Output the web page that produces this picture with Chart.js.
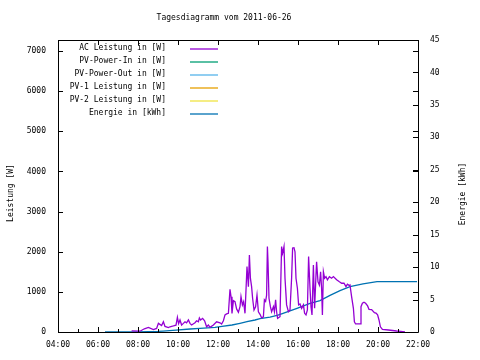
<!DOCTYPE html>
<html>
<head>
<meta charset="utf-8">
<script src="https://cdn.jsdelivr.net/npm/chart.js@4/dist/chart.umd.min.js"></script>
<style>
html,body{margin:0;padding:0;background:#fff;}
canvas{display:block;}
</style>
</head>
<body>
<canvas id="c" width="480" height="360"></canvas>
<script>
// ---- data ----
const titleText = 'Tagesdiagramm vom 2011-06-26';
const leftAxisTitle = 'Leistung [W]';
const rightAxisTitle = 'Energie [kWh]';
const seriesLabels = ['AC Leistung in [W]','PV-Power-In in [W]','PV-Power-Out in [W]','PV-1 Leistung in [W]','PV-2 Leistung in [W]','Energie in [kWh]'];
const seriesColors = ['#9400d3','#009e73','#56b4e9','#e69f00','#f0e442','#0072b2'];
const hourTicks = [4,6,8,10,12,14,16,18,20,22];
const powerTicks = [0,1000,2000,3000,4000,5000,6000,7000];
const energyTicks = [0,5,10,15,20,25,30,35,40,45];

const acHours = [7.68,8.1,8.32,8.52,8.77,8.93,9.02,9.18,9.27,9.35,
 9.52,9.6,9.77,9.9,9.97,10.03,10.1,10.18,10.27,10.35,
 10.43,10.52,10.6,10.68,10.85,10.93,11.02,11.07,11.13,11.23,
 11.33,11.43,11.52,11.6,11.77,11.93,12.1,12.18,12.27,12.35,
 12.43,12.52,12.6,12.65,12.7,12.77,12.85,12.93,13.02,13.1,
 13.15,13.22,13.28,13.35,13.45,13.52,13.57,13.62,13.68,13.73,
 13.8,13.88,13.95,14.02,14.1,14.18,14.27,14.32,14.38,14.43,
 14.47,14.5,14.55,14.62,14.68,14.77,14.82,14.88,14.93,14.98,
 15.1,15.18,15.23,15.3,15.35,15.43,15.52,15.6,15.68,15.73,
 15.8,15.85,15.9,15.97,16.03,16.1,16.18,16.27,16.33,16.4,
 16.47,16.53,16.6,16.65,16.7,16.77,16.83,16.9,16.93,17.0,
 17.07,17.13,17.18,17.22,17.27,17.33,17.4,17.47,17.57,17.68,
 17.77,17.93,18.07,18.18,18.3,18.4,18.47,18.57,18.6,18.68,
 18.77,18.82,18.88,19.1,19.15,19.22,19.3,19.38,19.48,19.55,
 19.68,19.82,19.9,19.98,20.05,20.12,20.22,20.52,20.93,21.35];
const acWatt = [30,20,80,115,60,90,215,160,255,140,
 110,130,150,170,365,210,300,175,215,255,
 230,300,215,175,230,280,255,350,300,340,
 280,130,175,115,175,255,230,200,280,425,
 450,465,1065,880,465,780,755,575,490,630,
 880,675,755,465,1630,1130,1920,1340,1130,840,
 550,630,920,505,440,355,380,800,760,920,
 2130,1750,840,630,505,630,505,800,505,340,
 380,2130,1960,2130,1340,675,505,550,1340,2090,
 2100,2000,1340,1090,675,700,590,675,465,425,
 550,1880,1090,630,425,1670,590,1420,1750,1250,
 1170,1500,1090,425,1500,1340,1380,1300,1380,1340,
 1380,1300,1250,1215,1215,1130,1190,1155,1170,880,
 590,255,200,200,630,715,740,715,650,565,
 560,480,470,425,300,130,65,50,25,5];

const energyHours = [6.35,8.0,9.0,9.25,9.9,10.6,11.1,11.85,12.2,12.7,13.1,13.45,13.85,14.1,14.6,15.0,15.25,15.6,15.95,16.6,17.1,17.6,18.1,18.6,19.25,19.95,21.95];
const energyKWh = [0,0.02,0.1,0.15,0.3,0.46,0.57,0.72,0.88,1.08,1.34,1.59,1.85,2.05,2.3,2.6,2.88,3.24,3.65,4.42,4.83,5.65,6.37,7.0,7.4,7.75,7.75];

// ---- build ----
const FONT = {family:'"DejaVu Sans Mono", monospace', size:8, weight:'normal'};
const CSSFONT = '8px "DejaVu Sans Mono", monospace';
const acData = acHours.map((h,i)=>({x:h,y:acWatt[i]}));
const enData = energyHours.map((h,i)=>({x:h,y:energyKWh[i]}));

function mk(i, data, axis){
  return {label:seriesLabels[i], data:data, borderColor:seriesColors[i], backgroundColor:seriesColors[i],
    borderWidth:1.3, pointRadius:0, tension:0, fill:false, yAxisID:axis};
}

const crisp = v => Math.round(v)+0.5;

const framePlugin = {
  id:'frame',
  afterDatasetsDraw(chart){
    const {ctx, chartArea:a, scales:{x,y,y2}} = chart;
    ctx.save();
    ctx.strokeStyle='#000'; ctx.lineWidth=1;
    const L=Math.round(a.left), R=Math.round(a.right), T=Math.round(a.top), B=Math.round(a.bottom);
    ctx.beginPath();
    ctx.rect(L+0.5,T+0.5,R-L,B-T);
    for(let h=4; h<=22; h++){
      const px = crisp(x.getPixelForValue(h));
      const major = h%2===0;
      const len = major?5:3;
      ctx.moveTo(px,B); ctx.lineTo(px,B-len);
      if(major){ ctx.moveTo(px,T); ctx.lineTo(px,T+len); }
    }
    powerTicks.forEach(v=>{
      const py = crisp(y.getPixelForValue(v));
      ctx.moveTo(L,py); ctx.lineTo(L+5,py);
      ctx.moveTo(R,py); ctx.lineTo(R-5,py);
    });
    energyTicks.forEach(v=>{
      const py = crisp(y2.getPixelForValue(v));
      ctx.moveTo(R,py); ctx.lineTo(R-5,py);
    });
    ctx.stroke();

    ctx.font = CSSFONT;
    ctx.fillStyle='#000';
    // title
    ctx.textAlign='center'; ctx.textBaseline='middle';
    ctx.fillText(titleText, 224, 18);

    // legend
    ctx.textAlign='right'; ctx.textBaseline='middle';
    chart.data.datasets.forEach((ds,i)=>{
      const yy = a.top + 9 + 13*i;
      ctx.fillStyle='#000';
      ctx.fillText(ds.label, a.left+108, yy-1);
      ctx.beginPath();
      ctx.strokeStyle = ds.borderColor; ctx.lineWidth=1.3;
      ctx.moveTo(a.left+132, yy); ctx.lineTo(a.left+160, yy);
      ctx.stroke();
    });

    // axis titles (read bottom to top)
    ctx.textAlign='center'; ctx.textBaseline='middle'; ctx.fillStyle='#000';
    ctx.save();
    ctx.translate(11, 193);
    ctx.rotate(-Math.PI/2);
    ctx.fillText(leftAxisTitle,0,0);
    ctx.restore();
    ctx.save();
    ctx.translate(463, 194);
    ctx.rotate(-Math.PI/2);
    ctx.fillText(rightAxisTitle,0,0);
    ctx.restore();
    ctx.restore();
  }
};

Chart.defaults.font = FONT;
Chart.defaults.color = '#000';

new Chart(document.getElementById('c'), {
  type:'line',
  data:{datasets:[
    mk(0, acData, 'y'),
    mk(1, [], 'y'),
    mk(2, [], 'y'),
    mk(3, [], 'y'),
    mk(4, [], 'y'),
    mk(5, enData, 'y2')
  ]},
  options:{
    responsive:false, animation:false, devicePixelRatio:1,
    layout:{padding:{top:40,left:0,right:0,bottom:0}},
    plugins:{
      legend:{display:false},
      tooltip:{enabled:false},
      title:{display:false}
    },
    scales:{
      x:{type:'linear', min:4, max:22,
        afterFit:s=>{s.height=28;},
        afterBuildTicks:s=>{s.ticks = hourTicks.map(v=>({value:v}));},
        ticks:{font:FONT, padding:8, maxRotation:0, autoSkip:false,
          callback:v=>String(v).padStart(2,'0')+':00'},
        grid:{display:false, drawTicks:false}, border:{display:false}},
      y:{type:'linear', position:'left', min:0, max:7275,
        afterFit:s=>{s.width=58;},
        afterBuildTicks:s=>{s.ticks = powerTicks.map(v=>({value:v}));},
        ticks:{font:FONT, padding:12, callback:v=>String(v)},
        grid:{display:false, drawTicks:false}, border:{display:false}},
      y2:{type:'linear', position:'right', min:0, max:45,
        afterFit:s=>{s.width=62;},
        afterBuildTicks:s=>{s.ticks = energyTicks.map(v=>({value:v}));},
        ticks:{font:FONT, padding:12, callback:v=>String(v)},
        grid:{display:false, drawTicks:false}, border:{display:false}}
    }
  },
  plugins:[framePlugin]
});
</script>
</body>
</html>
